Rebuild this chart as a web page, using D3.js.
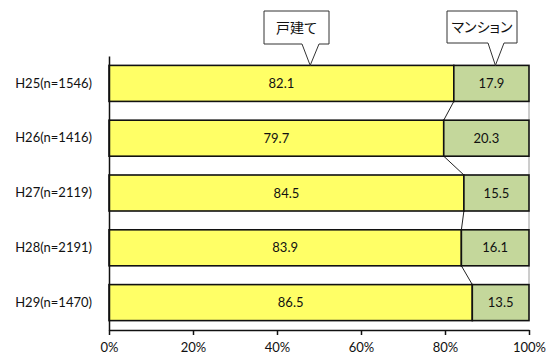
<!DOCTYPE html>
<html>
<head>
<meta charset="utf-8">
<script src="https://cdn.jsdelivr.net/npm/d3@7"></script>
<style>
  html, body { margin: 0; padding: 0; background: #fff; }
  svg { display: block; }
  .lat { font-family: Lato, "Open Sans", sans-serif; }
  .jp { font-family: "Noto Sans CJK JP", sans-serif; font-feature-settings: "palt"; }
</style>
</head>
<body>
<svg id="chart" width="546" height="354"></svg>
<script>
// Share of respondents by dwelling type, per survey year
const categories = ["H25(n=1546)", "H26(n=1416)", "H27(n=2119)", "H28(n=2191)", "H29(n=1470)"];
const detached = [82.1, 79.7, 84.5, 83.9, 86.5];   // 戸建て
const condo = [17.9, 20.3, 15.5, 16.1, 13.5];      // マンション
const seriesNames = ["戸建て", "マンション"];
const seriesColors = ["#FFFF66", "#C4D79B"];
const tickValues = [0, 20, 40, 60, 80, 100];

const W = 546, H = 354;
const margin = { top: 56, right: 17, bottom: 24, left: 109 };
const svg = d3.select("#chart");

const x = d3.scaleLinear().domain([0, 100]).range([margin.left, W - margin.right]);
const y = d3.scaleBand().domain(categories)
  .range([margin.top, H - margin.bottom])
  .paddingInner(0.343).paddingOuter(0.1715);

const rows = categories.map((c, i) => ({ cat: c, values: [detached[i], condo[i]] }));
const stack = d3.stack().keys([0, 1]).value((d, k) => d.values[k]);
const stacked = stack(rows);

// series lines connecting segment boundaries between adjacent bars
const lines = svg.append("g");
stacked.forEach((layer, k) => {
  for (let i = 0; i < layer.length - 1; i++) {
    const a = layer[i][1], b = layer[i + 1][1];
    lines.append("line")
      .attr("x1", x(a)).attr("y1", y(categories[i]) + y.bandwidth())
      .attr("x2", x(b)).attr("y2", y(categories[i + 1]))
      .attr("stroke", k === 1 ? "#9a9a9a" : "#222")
      .attr("stroke-width", 1);
  }
});

// bars
stacked.forEach((layer, k) => {
  svg.append("g").selectAll("rect").data(layer).join("rect")
    .attr("x", d => x(d[0]))
    .attr("y", d => y(d.data.cat))
    .attr("width", d => x(d[1]) - x(d[0]))
    .attr("height", y.bandwidth())
    .attr("fill", seriesColors[k])
    .attr("stroke", "#111")
    .attr("stroke-width", 1.6);

  svg.append("g").selectAll("text").data(layer).join("text")
    .attr("class", "lat")
    .attr("x", d => (x(d[0]) + x(d[1])) / 2)
    .attr("y", d => y(d.data.cat) + y.bandwidth() / 2)
    .attr("dy", "0.36em")
    .attr("text-anchor", "middle")
    .attr("font-size", 13)
    .attr("fill", "#111")
    .text(d => d3.format(".1f")(d[1] - d[0]));
});

// left axis (category labels)
const yAxis = svg.append("g").attr("transform", `translate(${margin.left},0)`)
  .call(d3.axisLeft(y).tickSize(0).tickPadding(17));
yAxis.select(".domain").attr("stroke", "#111").attr("stroke-width", 1.5);
yAxis.selectAll("text").attr("class", "lat").attr("font-size", 13).attr("fill", "#111");

// bottom axis
const xAxis = svg.append("g").attr("transform", `translate(0,${H - margin.bottom})`)
  .call(d3.axisBottom(x).tickValues(tickValues).tickFormat(d => d + "%").tickSize(5).tickSizeOuter(0).tickPadding(8));
xAxis.select(".domain").attr("stroke", "#111").attr("stroke-width", 1.5);
xAxis.selectAll(".tick line").attr("stroke", "#111").attr("stroke-width", 1.5);
xAxis.selectAll("text").attr("class", "lat").attr("font-size", 13).attr("fill", "#111");

// callout legend boxes pointing at the first bar
const callouts = [
  { name: seriesNames[0], box: [264, 11, 65, 33], base: [302, 319], tip: 47.9 },
  { name: seriesNames[1], box: [447, 11, 70, 32], base: [488, 504], tip: 92.0 }
];
const tipY = y(categories[0]);
callouts.forEach(c => {
  const [bx, by, bw, bh] = c.box;
  const bottom = by + bh;
  const p = d3.path();
  p.moveTo(bx, by);
  p.lineTo(bx + bw, by);
  p.lineTo(bx + bw, bottom);
  p.lineTo(c.base[1], bottom);
  p.lineTo(x(c.tip), tipY);
  p.lineTo(c.base[0], bottom);
  p.lineTo(bx, bottom);
  p.closePath();
  svg.append("path").attr("d", p.toString())
    .attr("fill", "#fff").attr("stroke", "#333").attr("stroke-width", 1);
  svg.append("text").attr("class", "jp")
    .attr("x", bx + bw / 2).attr("y", by + bh / 2)
    .attr("dy", "0.36em").attr("text-anchor", "middle")
    .attr("font-size", 14).attr("fill", "#111")
    .text(c.name);
});
</script>
</body>
</html>
